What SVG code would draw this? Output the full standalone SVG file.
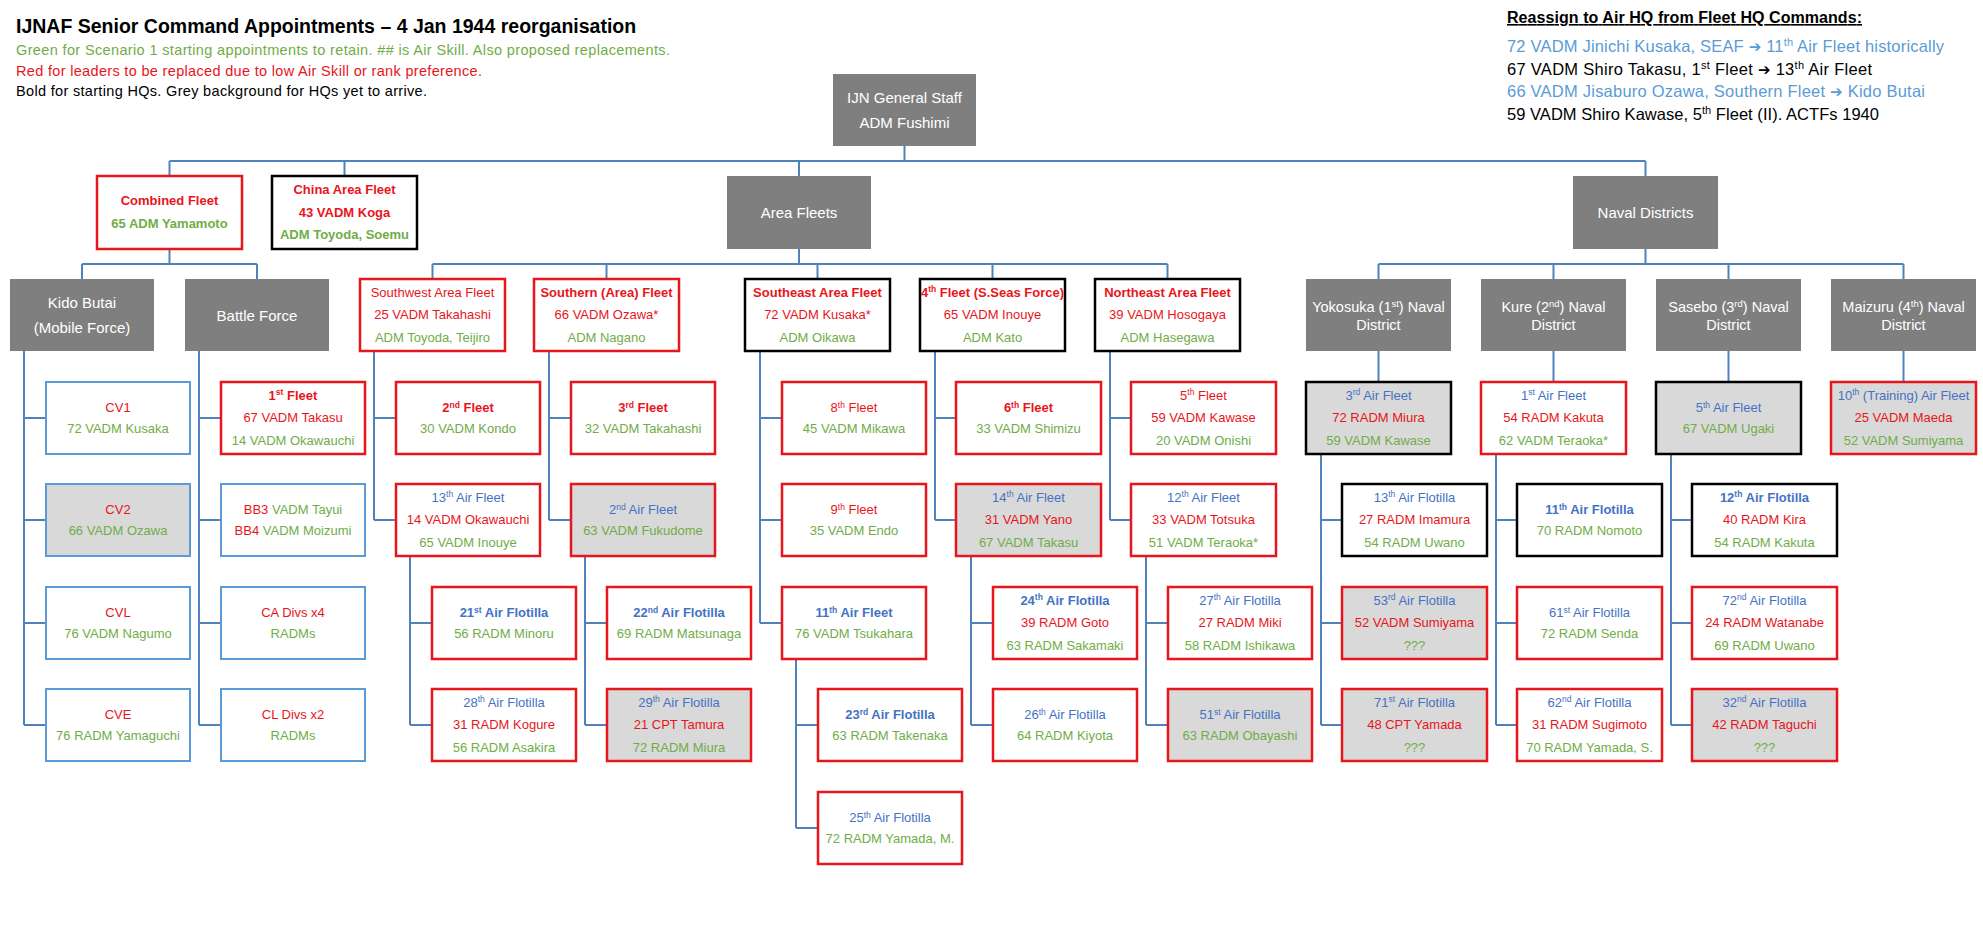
<svg xmlns="http://www.w3.org/2000/svg" width="1983" height="938" viewBox="0 0 1983 938">
<style>
text{font-family:"Liberation Sans",Arial,sans-serif}
.bg{fill:#fff}
rect{fill:#fff}
.r{stroke:#E8151B;stroke-width:2.5}
.k{stroke:#000;stroke-width:2.5}
.u{stroke:#5B9BD5;stroke-width:2}
.g{fill:#D9D9D9}
.h{fill:#7F7F7F}
.t{font-size:13px;text-anchor:middle}
.w{font-size:15px;text-anchor:middle;fill:#fff}
.wd{font-size:14.5px;text-anchor:middle;fill:#fff}
.R{fill:#E8151B}
.G{fill:#70AD47}
.B{fill:#4472C4}
.L{fill:#5B9BD5}
.K{fill:#000}
.bd{font-weight:bold}
.s{font-size:8.5px}
.sw{font-size:9.5px}
.sh{font-size:11px}
.ar{font-family:"DejaVu Sans",sans-serif;font-size:15px}
#conn path{fill:none;stroke:#4F81BD;stroke-width:2}
</style>
<rect class="bg" x="0" y="0" width="1983" height="938"/>

<g id="legend">
<text x="16" y="33" font-size="19.5" font-weight="bold" fill="#000">IJNAF Senior Command Appointments – 4 Jan 1944 reorganisation</text>
<text x="16" y="55" font-size="14.5" class="G" textLength="654">Green for Scenario 1 starting appointments to retain. ## is Air Skill. Also proposed replacements.</text>
<text x="16" y="76" font-size="14.5" class="R" textLength="466">Red for leaders to be replaced due to low Air Skill or rank preference.</text>
<text x="16" y="96" font-size="14.5" class="K" textLength="411">Bold for starting HQs. Grey background for HQs yet to arrive.</text>
</g>

<g id="reassign">
<text x="1507" y="23" font-size="16" font-weight="bold" text-decoration="underline" class="K" textLength="355">Reassign to Air HQ from Fleet HQ Commands:</text>
<text x="1507" y="52" font-size="16.5" class="L" textLength="437">72 VADM Jinichi Kusaka, SEAF <tspan class="ar">➔</tspan> 11<tspan class="sh" dy="-6">th</tspan><tspan dy="6"> Air Fleet historically</tspan></text>
<text x="1507" y="75" font-size="16.5" class="K" textLength="365">67 VADM Shiro Takasu, 1<tspan class="sh" dy="-6">st</tspan><tspan dy="6"> Fleet </tspan><tspan class="ar">➔</tspan> 13<tspan class="sh" dy="-6">th</tspan><tspan dy="6"> Air Fleet</tspan></text>
<text x="1507" y="97" font-size="16.5" class="L" textLength="418">66 VADM Jisaburo Ozawa, Southern Fleet <tspan class="ar">➔</tspan> Kido Butai</text>
<text x="1507" y="120" font-size="16.5" class="K" textLength="372">59 VADM Shiro Kawase, 5<tspan class="sh" dy="-6">th</tspan><tspan dy="6"> Fleet (II). ACTFs 1940</tspan></text>
</g>

<g id="conn">
<path d="M904.5 146V161M169.5 161H1645.5M169.5 161V176M344.5 161V176M799 161V176M1645.5 161V176"/>
<path d="M169.5 249V264M82 264H257M82 264V279M257 264V279"/>
<path d="M799 249V264M432.5 264H1167.5M432.5 264V279M606.5 264V279M817.5 264V279M992.5 264V279M1167.5 264V279"/>
<path d="M1645.5 249V264M1378.5 264H1903.5M1378.5 264V279M1553.5 264V279M1728.5 264V279M1903.5 264V279"/>
<path d="M1378.5 351V382M1553.5 351V382M1728.5 351V382M1903.5 351V382"/>
<path d="M24 351V725M24 418H46M24 520H46M24 623H46M24 725H46"/>
<path d="M199 351V725M199 418H221M199 520H221M199 623H221M199 725H221"/>
<path d="M374 351V520M374 418H396M374 520H396"/>
<path d="M410 556V725M410 623H432M410 725H432"/>
<path d="M549 351V520M549 418H571M549 520H571"/>
<path d="M585 556V725M585 623H607M585 725H607"/>
<path d="M760 351V623M760 418H782M760 520H782M760 623H782"/>
<path d="M796 659V828M796 725H818M796 828H818"/>
<path d="M935 351V520M935 418H956M935 520H956"/>
<path d="M971 556V725M971 623H993M971 725H993"/>
<path d="M1110 351V520M1110 418H1131M1110 520H1131"/>
<path d="M1146 556V725M1146 623H1168M1146 725H1168"/>
<path d="M1321 454V725M1321 520H1342M1321 623H1342M1321 725H1342"/>
<path d="M1496 454V725M1496 520H1517M1496 623H1517M1496 725H1517"/>
<path d="M1671 454V725M1671 520H1692M1671 623H1692M1671 725H1692"/>
</g>

<g id="general-staff"><rect class="h" x="833" y="74" width="143" height="72"/><text class="w" x="904.5" y="102.5">IJN General Staff</text><text class="w" x="904.5" y="127.5">ADM Fushimi</text></g>
<g id="combined-fleet"><rect class="r" x="97" y="176" width="145" height="73"/><text class="t R bd" x="169.5" y="204.5">Combined Fleet</text><text class="t G bd" x="169.5" y="227.5">65 ADM Yamamoto</text></g>
<g id="china-area-fleet"><rect class="k" x="272" y="176" width="145" height="73"/><text class="t R bd" x="344.5" y="193.5">China Area Fleet</text><text class="t R bd" x="344.5" y="216.5">43 VADM Koga</text><text class="t G bd" x="344.5" y="238.5">ADM Toyoda, Soemu</text></g>
<g id="area-fleets"><rect class="h" x="727" y="176" width="144" height="73"/><text class="w" x="799" y="217.5">Area Fleets</text></g>
<g id="naval-districts"><rect class="h" x="1573" y="176" width="145" height="73"/><text class="w" x="1645.5" y="217.5">Naval Districts</text></g>

<g id="kido-butai"><rect class="h" x="10" y="279" width="144" height="72"/><text class="w" x="82" y="307.5">Kido Butai</text><text class="w" x="82" y="332.5">(Mobile Force)</text></g>
<g id="battle-force"><rect class="h" x="185" y="279" width="144" height="72"/><text class="w" x="257" y="320.5">Battle Force</text></g>
<g id="southwest-area-fleet"><rect class="r" x="360" y="279" width="145" height="72"/><text class="t R" x="432.5" y="296.5">Southwest Area Fleet</text><text class="t R" x="432.5" y="319">25 VADM Takahashi</text><text class="t G" x="432.5" y="341.5">ADM Toyoda, Teijiro</text></g>
<g id="southern-area-fleet"><rect class="r" x="534" y="279" width="145" height="72"/><text class="t R bd" x="606.5" y="296.5">Southern (Area) Fleet</text><text class="t R" x="606.5" y="319">66 VADM Ozawa*</text><text class="t G" x="606.5" y="341.5">ADM Nagano</text></g>
<g id="southeast-area-fleet"><rect class="k" x="745" y="279" width="145" height="72"/><text class="t R bd" x="817.5" y="296.5">Southeast Area Fleet</text><text class="t R" x="817.5" y="319">72 VADM Kusaka*</text><text class="t G" x="817.5" y="341.5">ADM Oikawa</text></g>
<g id="fourth-fleet"><rect class="k" x="920" y="279" width="145" height="72"/><text class="t R bd" x="992.5" y="296.5">4<tspan class="s" dy="-4.5">th</tspan><tspan dy="4.5"> Fleet (S.Seas Force)</tspan></text><text class="t R" x="992.5" y="319">65 VADM Inouye</text><text class="t G" x="992.5" y="341.5">ADM Kato</text></g>
<g id="northeast-area-fleet"><rect class="k" x="1095" y="279" width="145" height="72"/><text class="t R bd" x="1167.5" y="296.5">Northeast Area Fleet</text><text class="t R" x="1167.5" y="319">39 VADM Hosogaya</text><text class="t G" x="1167.5" y="341.5">ADM Hasegawa</text></g>

<g id="yokosuka"><rect class="h" x="1306" y="279" width="145" height="72"/><text class="wd" x="1378.5" y="311.5">Yokosuka (1<tspan class="sw" dy="-5">st</tspan><tspan dy="5">) Naval</tspan></text><text class="wd" x="1378.5" y="329.5">District</text></g>
<g id="kure"><rect class="h" x="1481" y="279" width="145" height="72"/><text class="wd" x="1553.5" y="311.5">Kure (2<tspan class="sw" dy="-5">nd</tspan><tspan dy="5">) Naval</tspan></text><text class="wd" x="1553.5" y="329.5">District</text></g>
<g id="sasebo"><rect class="h" x="1656" y="279" width="145" height="72"/><text class="wd" x="1728.5" y="311.5">Sasebo (3<tspan class="sw" dy="-5">rd</tspan><tspan dy="5">) Naval</tspan></text><text class="wd" x="1728.5" y="329.5">District</text></g>
<g id="maizuru"><rect class="h" x="1831" y="279" width="145" height="72"/><text class="wd" x="1903.5" y="311.5">Maizuru (4<tspan class="sw" dy="-5">th</tspan><tspan dy="5">) Naval</tspan></text><text class="wd" x="1903.5" y="329.5">District</text></g>

<g id="cv1"><rect class="u" x="46" y="382" width="144" height="72"/><text class="t R" x="118" y="412">CV1</text><text class="t G" x="118" y="433">72 VADM Kusaka</text></g>
<g id="cv2"><rect class="u g" x="46" y="484" width="144" height="72"/><text class="t R" x="118" y="514">CV2</text><text class="t G" x="118" y="535">66 VADM Ozawa</text></g>
<g id="cvl"><rect class="u" x="46" y="587" width="144" height="72"/><text class="t R" x="118" y="617">CVL</text><text class="t G" x="118" y="638">76 VADM Nagumo</text></g>
<g id="cve"><rect class="u" x="46" y="689" width="144" height="72"/><text class="t R" x="118" y="719">CVE</text><text class="t G" x="118" y="740">76 RADM Yamaguchi</text></g>

<g id="first-fleet"><rect class="r" x="221" y="382" width="144" height="72"/><text class="t R bd" x="293" y="399.5">1<tspan class="s" dy="-4.5">st</tspan><tspan dy="4.5"> Fleet</tspan></text><text class="t R" x="293" y="422">67 VADM Takasu</text><text class="t G" x="293" y="444.5">14 VADM Okawauchi</text></g>
<g id="bb3-bb4"><rect class="u" x="221" y="484" width="144" height="72"/><text class="t R" x="293" y="514">BB3<tspan class="G"> VADM Tayui</tspan></text><text class="t R" x="293" y="535">BB4<tspan class="G"> VADM Moizumi</tspan></text></g>
<g id="ca-divs"><rect class="u" x="221" y="587" width="144" height="72"/><text class="t R" x="293" y="617">CA Divs x4</text><text class="t G" x="293" y="638">RADMs</text></g>
<g id="cl-divs"><rect class="u" x="221" y="689" width="144" height="72"/><text class="t R" x="293" y="719">CL Divs x2</text><text class="t G" x="293" y="740">RADMs</text></g>

<g id="second-fleet"><rect class="r" x="396" y="382" width="144" height="72"/><text class="t R bd" x="468" y="412">2<tspan class="s" dy="-4.5">nd</tspan><tspan dy="4.5"> Fleet</tspan></text><text class="t G" x="468" y="433">30 VADM Kondo</text></g>
<g id="air-fleet-13"><rect class="r" x="396" y="484" width="144" height="72"/><text class="t B" x="468" y="501.5">13<tspan class="s" dy="-4.5">th</tspan><tspan dy="4.5"> Air Fleet</tspan></text><text class="t R" x="468" y="524">14 VADM Okawauchi</text><text class="t G" x="468" y="546.5">65 VADM Inouye</text></g>
<g id="flotilla-21"><rect class="r" x="432" y="587" width="144" height="72"/><text class="t B bd" x="504" y="617">21<tspan class="s" dy="-4.5">st</tspan><tspan dy="4.5"> Air Flotilla</tspan></text><text class="t G" x="504" y="638">56 RADM Minoru</text></g>
<g id="flotilla-28"><rect class="r" x="432" y="689" width="144" height="72"/><text class="t B" x="504" y="706.5">28<tspan class="s" dy="-4.5">th</tspan><tspan dy="4.5"> Air Flotilla</tspan></text><text class="t R" x="504" y="729">31 RADM Kogure</text><text class="t G" x="504" y="751.5">56 RADM Asakira</text></g>

<g id="third-fleet"><rect class="r" x="571" y="382" width="144" height="72"/><text class="t R bd" x="643" y="412">3<tspan class="s" dy="-4.5">rd</tspan><tspan dy="4.5"> Fleet</tspan></text><text class="t G" x="643" y="433">32 VADM Takahashi</text></g>
<g id="air-fleet-2"><rect class="r g" x="571" y="484" width="144" height="72"/><text class="t B" x="643" y="514">2<tspan class="s" dy="-4.5">nd</tspan><tspan dy="4.5"> Air Fleet</tspan></text><text class="t G" x="643" y="535">63 VADM Fukudome</text></g>
<g id="flotilla-22"><rect class="r" x="607" y="587" width="144" height="72"/><text class="t B bd" x="679" y="617">22<tspan class="s" dy="-4.5">nd</tspan><tspan dy="4.5"> Air Flotilla</tspan></text><text class="t G" x="679" y="638">69 RADM Matsunaga</text></g>
<g id="flotilla-29"><rect class="r g" x="607" y="689" width="144" height="72"/><text class="t B" x="679" y="706.5">29<tspan class="s" dy="-4.5">th</tspan><tspan dy="4.5"> Air Flotilla</tspan></text><text class="t R" x="679" y="729">21 CPT Tamura</text><text class="t G" x="679" y="751.5">72 RADM Miura</text></g>

<g id="eighth-fleet"><rect class="r" x="782" y="382" width="144" height="72"/><text class="t R" x="854" y="412">8<tspan class="s" dy="-4.5">th</tspan><tspan dy="4.5"> Fleet</tspan></text><text class="t G" x="854" y="433">45 VADM Mikawa</text></g>
<g id="ninth-fleet"><rect class="r" x="782" y="484" width="144" height="72"/><text class="t R" x="854" y="514">9<tspan class="s" dy="-4.5">th</tspan><tspan dy="4.5"> Fleet</tspan></text><text class="t G" x="854" y="535">35 VADM Endo</text></g>
<g id="air-fleet-11"><rect class="r" x="782" y="587" width="144" height="72"/><text class="t B bd" x="854" y="617">11<tspan class="s" dy="-4.5">th</tspan><tspan dy="4.5"> Air Fleet</tspan></text><text class="t G" x="854" y="638">76 VADM Tsukahara</text></g>
<g id="flotilla-23"><rect class="r" x="818" y="689" width="144" height="72"/><text class="t B bd" x="890" y="719">23<tspan class="s" dy="-4.5">rd</tspan><tspan dy="4.5"> Air Flotilla</tspan></text><text class="t G" x="890" y="740">63 RADM Takenaka</text></g>
<g id="flotilla-25"><rect class="r" x="818" y="792" width="144" height="72"/><text class="t B" x="890" y="822">25<tspan class="s" dy="-4.5">th</tspan><tspan dy="4.5"> Air Flotilla</tspan></text><text class="t G" x="890" y="843">72 RADM Yamada, M.</text></g>

<g id="sixth-fleet"><rect class="r" x="956" y="382" width="145" height="72"/><text class="t R bd" x="1028.5" y="412">6<tspan class="s" dy="-4.5">th</tspan><tspan dy="4.5"> Fleet</tspan></text><text class="t G" x="1028.5" y="433">33 VADM Shimizu</text></g>
<g id="air-fleet-14"><rect class="r g" x="956" y="484" width="145" height="72"/><text class="t B" x="1028.5" y="501.5">14<tspan class="s" dy="-4.5">th</tspan><tspan dy="4.5"> Air Fleet</tspan></text><text class="t R" x="1028.5" y="524">31 VADM Yano</text><text class="t G" x="1028.5" y="546.5">67 VADM Takasu</text></g>
<g id="flotilla-24"><rect class="r" x="993" y="587" width="144" height="72"/><text class="t B bd" x="1065" y="604.5">24<tspan class="s" dy="-4.5">th</tspan><tspan dy="4.5"> Air Flotilla</tspan></text><text class="t R" x="1065" y="627">39 RADM Goto</text><text class="t G" x="1065" y="649.5">63 RADM Sakamaki</text></g>
<g id="flotilla-26"><rect class="r" x="993" y="689" width="144" height="72"/><text class="t B" x="1065" y="719">26<tspan class="s" dy="-4.5">th</tspan><tspan dy="4.5"> Air Flotilla</tspan></text><text class="t G" x="1065" y="740">64 RADM Kiyota</text></g>

<g id="fifth-fleet"><rect class="r" x="1131" y="382" width="145" height="72"/><text class="t R" x="1203.5" y="399.5">5<tspan class="s" dy="-4.5">th</tspan><tspan dy="4.5"> Fleet</tspan></text><text class="t R" x="1203.5" y="422">59 VADM Kawase</text><text class="t G" x="1203.5" y="444.5">20 VADM Onishi</text></g>
<g id="air-fleet-12"><rect class="r" x="1131" y="484" width="145" height="72"/><text class="t B" x="1203.5" y="501.5">12<tspan class="s" dy="-4.5">th</tspan><tspan dy="4.5"> Air Fleet</tspan></text><text class="t R" x="1203.5" y="524">33 VADM Totsuka</text><text class="t G" x="1203.5" y="546.5">51 VADM Teraoka*</text></g>
<g id="flotilla-27"><rect class="r" x="1168" y="587" width="144" height="72"/><text class="t B" x="1240" y="604.5">27<tspan class="s" dy="-4.5">th</tspan><tspan dy="4.5"> Air Flotilla</tspan></text><text class="t R" x="1240" y="627">27 RADM Miki</text><text class="t G" x="1240" y="649.5">58 RADM Ishikawa</text></g>
<g id="flotilla-51"><rect class="r g" x="1168" y="689" width="144" height="72"/><text class="t B" x="1240" y="719">51<tspan class="s" dy="-4.5">st</tspan><tspan dy="4.5"> Air Flotilla</tspan></text><text class="t G" x="1240" y="740">63 RADM Obayashi</text></g>

<g id="air-fleet-3"><rect class="k g" x="1306" y="382" width="145" height="72"/><text class="t B" x="1378.5" y="399.5">3<tspan class="s" dy="-4.5">rd</tspan><tspan dy="4.5"> Air Fleet</tspan></text><text class="t R" x="1378.5" y="422">72 RADM Miura</text><text class="t G" x="1378.5" y="444.5">59 VADM Kawase</text></g>
<g id="air-fleet-1"><rect class="r" x="1481" y="382" width="145" height="72"/><text class="t B" x="1553.5" y="399.5">1<tspan class="s" dy="-4.5">st</tspan><tspan dy="4.5"> Air Fleet</tspan></text><text class="t R" x="1553.5" y="422">54 RADM Kakuta</text><text class="t G" x="1553.5" y="444.5">62 VADM Teraoka*</text></g>
<g id="air-fleet-5"><rect class="k g" x="1656" y="382" width="145" height="72"/><text class="t B" x="1728.5" y="412">5<tspan class="s" dy="-4.5">th</tspan><tspan dy="4.5"> Air Fleet</tspan></text><text class="t G" x="1728.5" y="433">67 VADM Ugaki</text></g>
<g id="air-fleet-10"><rect class="r g" x="1831" y="382" width="145" height="72"/><text class="t B" x="1903.5" y="399.5">10<tspan class="s" dy="-4.5">th</tspan><tspan dy="4.5"> (Training) Air Fleet</tspan></text><text class="t R" x="1903.5" y="422">25 VADM Maeda</text><text class="t G" x="1903.5" y="444.5">52 VADM Sumiyama</text></g>

<g id="flotilla-13"><rect class="k" x="1342" y="484" width="145" height="72"/><text class="t B" x="1414.5" y="501.5">13<tspan class="s" dy="-4.5">th</tspan><tspan dy="4.5"> Air Flotilla</tspan></text><text class="t R" x="1414.5" y="524">27 RADM Imamura</text><text class="t G" x="1414.5" y="546.5">54 RADM Uwano</text></g>
<g id="flotilla-53"><rect class="r g" x="1342" y="587" width="145" height="72"/><text class="t B" x="1414.5" y="604.5">53<tspan class="s" dy="-4.5">rd</tspan><tspan dy="4.5"> Air Flotilla</tspan></text><text class="t R" x="1414.5" y="627">52 VADM Sumiyama</text><text class="t G" x="1414.5" y="649.5">???</text></g>
<g id="flotilla-71"><rect class="r g" x="1342" y="689" width="145" height="72"/><text class="t B" x="1414.5" y="706.5">71<tspan class="s" dy="-4.5">st</tspan><tspan dy="4.5"> Air Flotilla</tspan></text><text class="t R" x="1414.5" y="729">48 CPT Yamada</text><text class="t G" x="1414.5" y="751.5">???</text></g>

<g id="flotilla-11"><rect class="k" x="1517" y="484" width="145" height="72"/><text class="t B bd" x="1589.5" y="514">11<tspan class="s" dy="-4.5">th</tspan><tspan dy="4.5"> Air Flotilla</tspan></text><text class="t G" x="1589.5" y="535">70 RADM Nomoto</text></g>
<g id="flotilla-61"><rect class="r" x="1517" y="587" width="145" height="72"/><text class="t B" x="1589.5" y="617">61<tspan class="s" dy="-4.5">st</tspan><tspan dy="4.5"> Air Flotilla</tspan></text><text class="t G" x="1589.5" y="638">72 RADM Senda</text></g>
<g id="flotilla-62"><rect class="r" x="1517" y="689" width="145" height="72"/><text class="t B" x="1589.5" y="706.5">62<tspan class="s" dy="-4.5">nd</tspan><tspan dy="4.5"> Air Flotilla</tspan></text><text class="t R" x="1589.5" y="729">31 RADM Sugimoto</text><text class="t G" x="1589.5" y="751.5">70 RADM Yamada, S.</text></g>

<g id="flotilla-12"><rect class="k" x="1692" y="484" width="145" height="72"/><text class="t B bd" x="1764.5" y="501.5">12<tspan class="s" dy="-4.5">th</tspan><tspan dy="4.5"> Air Flotilla</tspan></text><text class="t R" x="1764.5" y="524">40 RADM Kira</text><text class="t G" x="1764.5" y="546.5">54 RADM Kakuta</text></g>
<g id="flotilla-72"><rect class="r" x="1692" y="587" width="145" height="72"/><text class="t B" x="1764.5" y="604.5">72<tspan class="s" dy="-4.5">nd</tspan><tspan dy="4.5"> Air Flotilla</tspan></text><text class="t R" x="1764.5" y="627">24 RADM Watanabe</text><text class="t G" x="1764.5" y="649.5">69 RADM Uwano</text></g>
<g id="flotilla-32"><rect class="r g" x="1692" y="689" width="145" height="72"/><text class="t B" x="1764.5" y="706.5">32<tspan class="s" dy="-4.5">nd</tspan><tspan dy="4.5"> Air Flotilla</tspan></text><text class="t R" x="1764.5" y="729">42 RADM Taguchi</text><text class="t G" x="1764.5" y="751.5">???</text></g>
</svg>
